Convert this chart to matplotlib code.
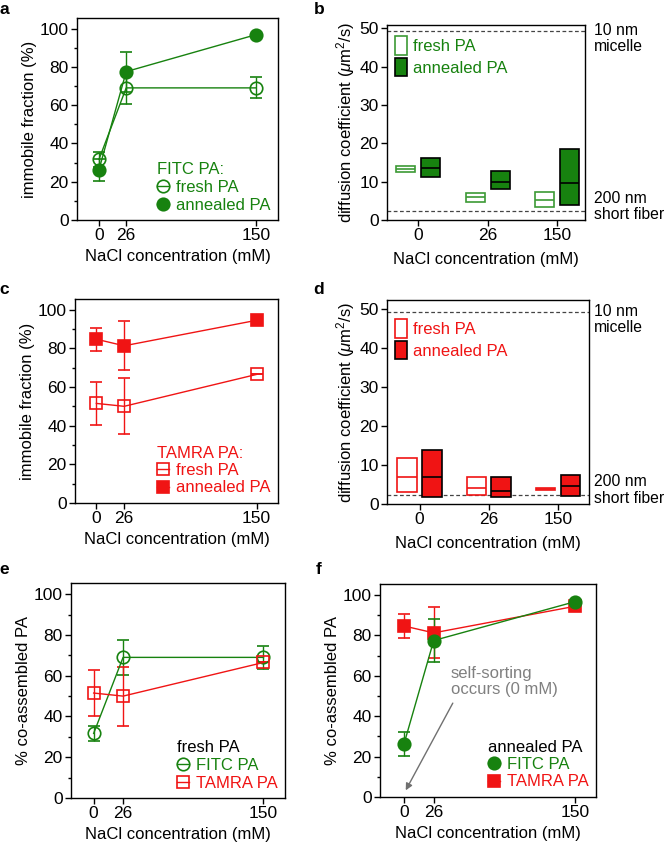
import matplotlib
matplotlib.use("Agg")
import matplotlib.pyplot as plt
import matplotlib.transforms as mtransforms
from matplotlib.patches import Patch
from matplotlib.ticker import MultipleLocator
import numpy as np

plt.rcParams["font.family"] = ["Liberation Sans", "DejaVu Sans"]
plt.rcParams["mathtext.fontset"] = "custom"
plt.rcParams["mathtext.rm"] = "Liberation Sans"
plt.rcParams["mathtext.it"] = "Liberation Sans:italic"
plt.rcParams["font.size"] = 12
plt.rcParams["xtick.labelsize"] = 12.5
plt.rcParams["ytick.labelsize"] = 12.5
plt.rcParams["axes.linewidth"] = 1.0

GREEN = "#17820f"
GREEN_L = "#3c9a35"
RED = "#f01414"

# NaCl concentrations (mM)
salt = [0, 26, 150]
salt_labels = ["0", "26", "150"]

# immobile fraction (%) with error
fitc_fresh = [31.7, 69.0, 69.0]
fitc_fresh_err = [3.8, 8.5, 5.5]
fitc_anneal = [26.3, 77.5, 96.8]
fitc_anneal_err = [5.8, 10.5, 0.0]
tamra_fresh = [51.5, 50.0, 66.5]
tamra_fresh_err = [11.3, 14.5, 0.0]
tamra_anneal = [84.7, 81.3, 94.5]
tamra_anneal_err = [6.0, 12.7, 0.0]

# diffusion coefficient ranges (um^2/s): low, high, median
fitc_fresh_lo = [12.5, 4.8, 3.4]
fitc_fresh_hi = [14.2, 7.0, 7.2]
fitc_fresh_med = [13.3, 5.9, 5.3]
fitc_anneal_lo = [11.2, 8.0, 3.8]
fitc_anneal_hi = [16.2, 12.9, 18.5]
fitc_anneal_med = [13.7, 10.0, 9.6]
tamra_fresh_lo = [3.2, 2.3, 3.5]
tamra_fresh_hi = [11.8, 6.9, 4.2]
tamra_fresh_med = [6.9, 4.1, 3.85]
tamra_anneal_lo = [1.9, 1.8, 2.1]
tamra_anneal_hi = [13.8, 6.9, 7.4]
tamra_anneal_med = [6.9, 3.4, 4.6]

micelle_D = 49.3
fiber_D = 2.4

W, H = 671, 850
fig = plt.figure(figsize=(W / 100, H / 100), dpi=100)


def add_ax(l, t, r, b):
    return fig.add_axes([l / W, 1 - b / H, (r - l) / W, (b - t) / H])


def style_frac_axis(ax, ylabel, xlim):
    ax.set_xlim(*xlim)
    ax.set_ylim(0, 105.5)
    ax.set_xticks(salt)
    ax.set_xticklabels(salt_labels)
    ax.yaxis.set_major_locator(MultipleLocator(20))
    ax.yaxis.set_minor_locator(MultipleLocator(10))
    ax.tick_params(direction="out", length=4, width=1.0, pad=2)
    ax.tick_params(which="minor", length=2.5, width=1.0)
    ax.set_ylabel(ylabel, labelpad=2)
    ax.set_xlabel("NaCl concentration (mM)", labelpad=4)


def line_series(ax, y, err, color, marker, filled, ms, label):
    return ax.errorbar(salt, y, yerr=err, color=color, lw=1.0, elinewidth=1.0,
                       capsize=4.5, capthick=1.0, marker=marker, ms=ms,
                       mfc=color if filled else "none", mec=color, mew=1.2,
                       label=label)


def frac_legend(ax, handles, labels, title, title_color):
    leg = ax.legend([h[0] for h in handles], labels, loc="lower right",
                    frameon=False, title=title, alignment="left",
                    handlelength=0.75, handletextpad=0.4, labelspacing=0.15,
                    borderpad=0.1, borderaxespad=0.35, labelcolor="linecolor",
                    title_fontsize=12)
    leg.get_title().set_color(title_color)


def boxes(ax, pos, lo, hi, med, face, edge, medcolor, width=0.28):
    lo = np.array(lo)
    hi = np.array(hi)
    ax.bar(pos, hi - lo, bottom=lo, width=width, facecolor=face,
           edgecolor=edge, linewidth=1.2, zorder=3)
    ax.hlines(med, pos - width / 2, pos + width / 2, color=medcolor,
              lw=1.2, zorder=4)


def style_diff_axis(ax, xlim, ytop):
    ax.set_xlim(*xlim)
    ax.set_ylim(0, ytop)
    ax.set_xticks(range(3))
    ax.set_xticklabels(salt_labels)
    ax.yaxis.set_major_locator(MultipleLocator(10))
    ax.tick_params(direction="out", length=4, width=1.0, pad=2)
    ax.set_ylabel(r"diffusion coefficient ($\mu$m$^2$/s)", labelpad=2)
    ax.set_xlabel("NaCl concentration (mM)", labelpad=6)
    for yv in (micelle_D, fiber_D):
        ax.axhline(yv, color="#444444", lw=0.9, ls=(0, (3, 2)), zorder=2)
    tr = mtransforms.blended_transform_factory(fig.transFigure, ax.transData)
    ax.text(594 / W, micelle_D - 2.0, "10 nm\nmicelle", transform=tr,
            va="center", ha="left", linespacing=1.1, fontsize=11.3)
    ax.text(594 / W, fiber_D + 1.2, "200 nm\nshort fiber", transform=tr,
            va="center", ha="left", linespacing=1.1, fontsize=11.3)


def box_legend(ax, color, edge, ax_h, top_px):
    hs = [Patch(facecolor="white", edgecolor=edge, lw=1.2),
          Patch(facecolor=color, edgecolor="black", lw=1.2)]
    leg = ax.legend(hs, ["fresh PA", "annealed PA"], loc="upper left",
                    bbox_to_anchor=(0.0, 1 - top_px / ax_h), frameon=False,
                    handlelength=0.75, handleheight=1.3, handletextpad=0.35,
                    labelspacing=0.2, borderaxespad=0.25, borderpad=0.2)
    for t in leg.get_texts():
        t.set_color(color)


ax_a = add_ax(77, 18, 278, 220)
ax_b = add_ax(387, 25, 585, 220)
ax_c = add_ax(75, 299, 278, 503)
ax_d = add_ax(387, 300, 589, 504)
ax_e = add_ax(71, 583, 285, 798)
ax_f = add_ax(380, 584, 596, 797)

# a
h1 = line_series(ax_a, fitc_fresh, fitc_fresh_err, GREEN, "o", False, 9, "fresh PA")
h2 = line_series(ax_a, fitc_anneal, fitc_anneal_err, GREEN, "o", True, 9, "annealed PA")
style_frac_axis(ax_a, "immobile fraction (%)", (-21, 171))
frac_legend(ax_a, [h1, h2], ["fresh PA", "annealed PA"], "FITC PA:", GREEN)

# c
h1 = line_series(ax_c, tamra_fresh, tamra_fresh_err, RED, "s", False, 8, "fresh PA")
h2 = line_series(ax_c, tamra_anneal, tamra_anneal_err, RED, "s", True, 8, "annealed PA")
style_frac_axis(ax_c, "immobile fraction (%)", (-20, 170))
frac_legend(ax_c, [h1, h2], ["fresh PA", "annealed PA"], "TAMRA PA:", RED)

# b
cat = np.arange(3)
boxes(ax_b, cat - 0.18, fitc_fresh_lo, fitc_fresh_hi, fitc_fresh_med,
      "white", GREEN_L, GREEN_L)
boxes(ax_b, cat + 0.18, fitc_anneal_lo, fitc_anneal_hi, fitc_anneal_med,
      GREEN, "black", "black")
style_diff_axis(ax_b, (-0.45, 2.4), 50.9)
box_legend(ax_b, GREEN, GREEN_L, 195, 4)

# d
boxes(ax_d, cat - 0.18, tamra_fresh_lo, tamra_fresh_hi, tamra_fresh_med,
      "white", RED, RED)
boxes(ax_d, cat + 0.18, tamra_anneal_lo, tamra_anneal_hi, tamra_anneal_med,
      RED, "black", "black")
style_diff_axis(ax_d, (-0.47, 2.45), 52.3)
box_legend(ax_d, RED, RED, 204, 12)

# e
h1 = line_series(ax_e, fitc_fresh, fitc_fresh_err, GREEN, "o", False, 9, "FITC PA")
h2 = line_series(ax_e, tamra_fresh, tamra_fresh_err, RED, "s", False, 8, "TAMRA PA")
style_frac_axis(ax_e, "% co-assembled PA", (-20, 169))
frac_legend(ax_e, [h1, h2], ["FITC PA", "TAMRA PA"], "fresh PA", "black")

# f
h2 = line_series(ax_f, tamra_anneal, tamra_anneal_err, RED, "s", True, 8, "TAMRA PA")
h1 = line_series(ax_f, fitc_anneal, fitc_anneal_err, GREEN, "o", True, 9, "FITC PA")
style_frac_axis(ax_f, "% co-assembled PA", (-21, 168))
frac_legend(ax_f, [h1, h2], ["FITC PA", "TAMRA PA"], "annealed PA", "black")
ax_f.text(41, 65, "self-sorting\noccurs (0 mM)", color="#808080",
          ha="left", va="top", linespacing=1.1)
ax_f.annotate("", xy=(1.5, 3.3), xytext=(42.7, 46.5),
              arrowprops=dict(arrowstyle="-|>", color="#707070", lw=1.0,
                              mutation_scale=10, shrinkA=0, shrinkB=0))

# panel letters
for letter, x, y in [("a", 4, 10), ("b", 319, 10), ("c", 4, 290),
                     ("d", 319, 290), ("e", 4, 570), ("f", 319, 570)]:
    fig.text(x / W, 1 - y / H, letter, fontsize=12.5, fontweight="bold",
             ha="center", va="center")

fig.savefig("out.png", dpi=100)
